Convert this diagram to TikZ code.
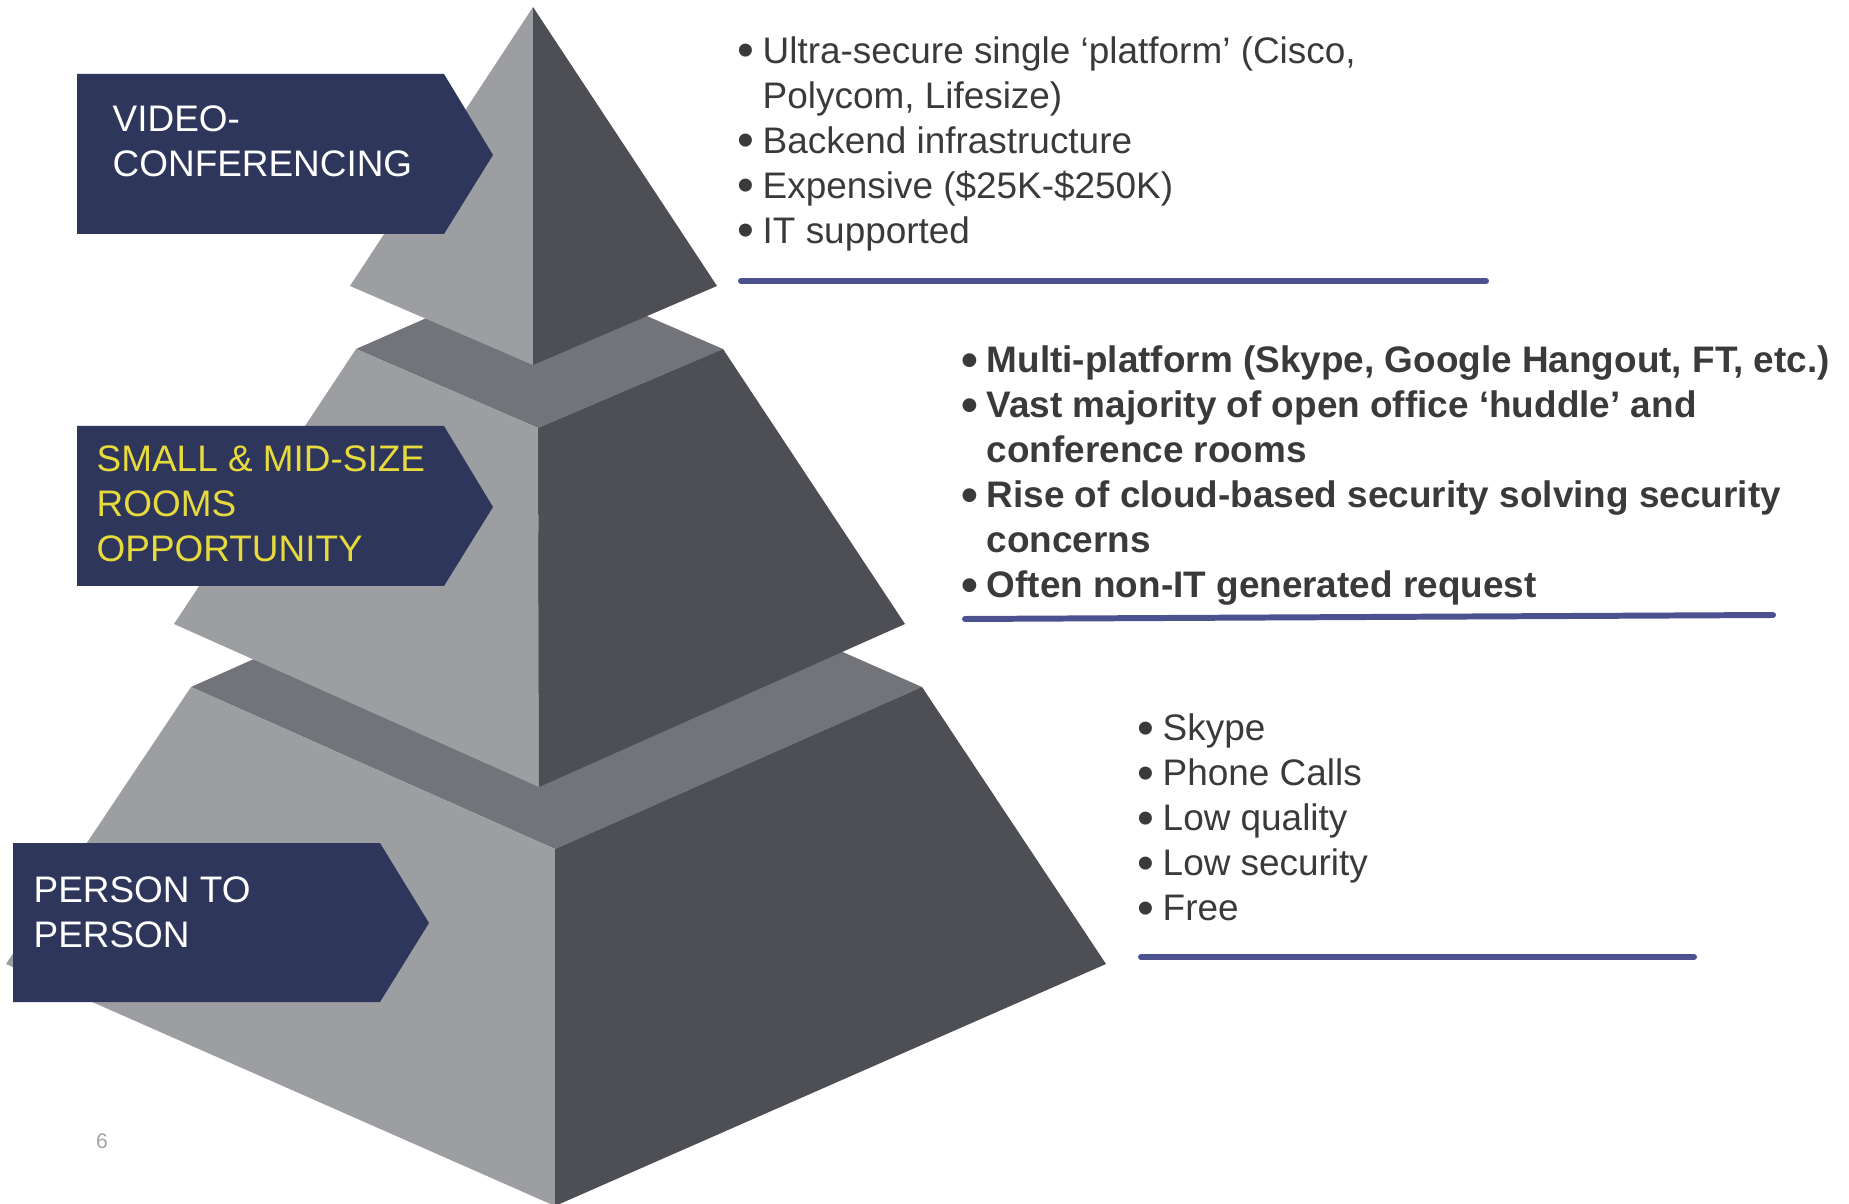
\documentclass[tikz,border=0pt]{standalone}
\usepackage{fontspec}
\setmainfont{Liberation Sans}
\usepackage{xcolor}
\usepackage{graphicx}
\usepackage{tikz}
\usetikzlibrary{positioning}
\definecolor{lightface}{HTML}{9D9EA2}
\definecolor{darkface}{HTML}{4E4F54}
\definecolor{ledge}{HTML}{737479}
\definecolor{navy}{HTML}{2F365B}
\definecolor{gold}{HTML}{E6DA3C}
\definecolor{ink}{HTML}{3A3A3A}
\definecolor{rulecol}{HTML}{4B528F}
\definecolor{pgnum}{HTML}{A3A3A3}
\newcommand{\bl}{\makebox[0.25cm][l]{\raisebox{-0.1em}{\scalebox{1.3}{\textbullet}}}}
\newcommand{\bh}{\hspace*{0.25cm}}
\tikzset{
  lbl/.style={anchor=base west, inner sep=0pt, align=left, font=\fontsize{10.5}{12.8}\selectfont},
  notes/.style={lbl, text=ink},
  uline/.style={draw=rulecol, line width=1.7pt, line cap=round},
  lblbox/.style={fill=navy}
}
\begin{document}
\begin{tikzpicture}[x=0.01cm,y=-0.01cm]
\useasboundingbox (0,0) rectangle (1849,1204);
\fill[ledge] (191,687) -- (555,525) -- (922,687) -- (555,849) -- cycle;
\fill[lightface] (191,687) -- (555,849) -- (555,1206) -- (6,964) -- cycle;
\fill[darkface] (555,849) -- (922,687) -- (1106,964) -- (555,1206) -- cycle;
\fill[ledge] (356,349) -- (538,269) -- (723,349) -- (538,428) -- cycle;
\fill[lightface] (356,349) -- (538,428) -- (539,787) -- (174,624) -- cycle;
\fill[darkface] (538,428) -- (723,349) -- (905,624) -- (539,787) -- cycle;
\fill[lightface] (533,7) -- (350,286) -- (533,365) -- cycle;
\fill[darkface] (533,7) -- (533,365) -- (717,286) -- cycle;
\fill[lblbox] (77,74) -- (444,74) -- (493,155) -- (444,234) -- (77,234) -- cycle;
\fill[lblbox] (77,426) -- (444,426) -- (493,507) -- (444,586) -- (77,586) -- cycle;
\fill[lblbox] (13,843) -- (380,843) -- (429,923) -- (380,1002) -- (13,1002) -- cycle;
\node[lbl, text=white] (vclbl) at (112,176.6) {VIDEO-\\CONFERENCING};
\node[lbl, text=gold] (smlbl) at (96,561.3) {SMALL \& MID-SIZE\\ROOMS\\OPPORTUNITY};
\node[lbl, text=white] (pplbl) at (33,947.5) {PERSON TO\\PERSON};
\node[notes] (vcnotes) at (737,243.2) {\bl Ultra-secure single ‘platform’ (Cisco,\\\bh Polycom, Lifesize)\\\bl Backend infrastructure\\\bl Expensive (\$25K-\$250K)\\\bl IT supported};
\node[notes, font=\fontsize{10.5}{12.8}\selectfont\bfseries] (smnotes) at (961,597.5) {\bl Multi-platform (Skype, Google Hangout, FT, etc.)\\\bl Vast majority of open office ‘huddle’ and\\\bh conference rooms\\\bl Rise of cloud-based security solving security\\\bh concerns\\\bl Often non-IT generated request};
\node[notes] (ppnotes) at (1137,920.9) {\bl Skype\\\bl Phone Calls\\\bl Low quality\\\bl Low security\\\bl Free};
\coordinate (vcl) at (741,281);
\coordinate (vcr) at (1486,281);
\coordinate (sml) at (965,619);
\coordinate (smr) at (1773,615);
\coordinate (ppl) at (1141,957);
\coordinate (ppr) at (1694,957);
\draw[uline] (vcl) -- (vcr);
\draw[uline] (sml) -- (smr);
\draw[uline] (ppl) -- (ppr);
\node[text=pgnum, font=\fontsize{6}{7}\selectfont] (pg) at (102,1141) {6};
\end{tikzpicture}
\end{document}
